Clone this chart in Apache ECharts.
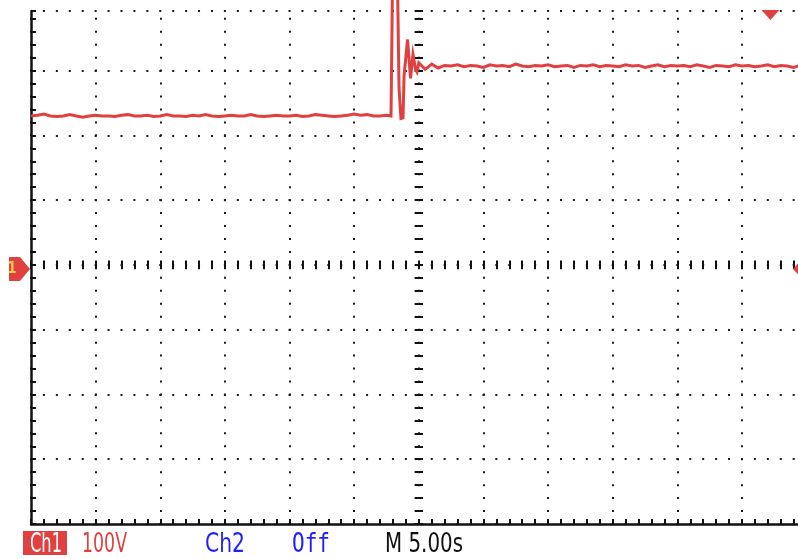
<!DOCTYPE html>
<html><head><meta charset="utf-8">
<script src="https://cdn.jsdelivr.net/npm/echarts@6/dist/echarts.min.js"></script>
<style>html,body{margin:0;padding:0;background:#fff;}#c{width:798px;height:559px;}</style>
</head><body><div id="c"></div>
<script>
// ---- data (seconds, volts) ----
const sampleStep = 0.5;
const baselineStart = 0;
const baseline = [
  230, 231, 233, 230, 229, 230, 232, 230, 228, 230, 231, 230, 230, 229, 231, 232, 230, 230, 231, 229,
  230, 232, 230, 230, 229, 231, 230, 232, 230, 229, 230, 231, 230, 230, 232, 230, 229, 230, 231, 230,
  230, 231, 229, 230, 232, 231, 230, 229, 230, 231, 233, 231, 232, 230, 230, 231
];
const spikeT = [27.85, 27.97, 28.35, 28.47, 28.62, 28.78, 28.86, 29.01, 29.13, 29.24, 29.36, 29.48, 29.55, 29.67, 29.75, 29.86];
const spikeV = [230, 440, 440, 274, 226, 227, 292, 295, 348, 345, 288, 291, 325, 323, 302, 298];
const settledStart = 30;
const settled = [
  312, 302, 310, 304, 308, 307, 309, 306, 308, 307, 305, 309, 307, 308, 306, 310, 307, 306, 308, 307,
  309, 306, 307, 308, 305, 308, 307, 309, 306, 308, 307, 306, 309, 307, 308, 305, 307, 309, 306, 308,
  307, 308, 306, 309, 307, 305, 308, 307, 306, 309, 307, 308, 306, 307, 309, 306, 308, 307, 305, 308, 307
];
const triggerTime = 57.2;
const statusTexts = ['Ch1', '100V', 'Ch2', 'Off', 'M 5.00s'];

// ---- layout ----
const GRID = {left: 31, top: 11, width: 775.6, height: 513};
const tMin = 0, tMax = 60, tMinor = 1, tMajor = 5;
const vMin = -400, vMax = 392, vMinor = 20, vMajor = 100;
const pxPerT = GRID.width / (tMax - tMin);
const pxPerV = GRID.height / (vMax - vMin);
const minorX = tMinor * pxPerT;
const minorY = vMinor * pxPerV;
const ink = '#111';
const dotInk = '#1c1c1c';
const red = '#e0403f';
const blue = '#1f1fff';

const data = [];
baseline.forEach((v, i) => data.push([baselineStart + i * sampleStep, v]));
spikeT.forEach((t, i) => data.push([t, spikeV[i]]));
settled.forEach((v, i) => data.push([settledStart + i * sampleStep, v]));

const y0 = GRID.top + (vMax - 0) * pxPerV;
const x0 = GRID.left + (30 - tMin) * pxPerT;
const firstMinorOffset = (vMax - Math.floor(vMax / vMinor) * vMinor) * pxPerV;
const vDashOffset = ((minorY - (firstMinorOffset - 1)) % minorY + minorY) % minorY;

const hidden = {show: false};
const baseX = {type: 'value', min: tMin, max: tMax, axisLabel: hidden, splitLine: hidden, axisPointer: hidden};
const baseY = {type: 'value', min: vMin, max: vMax, axisLabel: hidden, splitLine: hidden, axisPointer: hidden};

const option = {
  animation: false,
  backgroundColor: '#fff',
  grid: Object.assign({containLabel: false, outerBoundsMode: 'none'}, GRID),
  xAxis: [
    Object.assign({}, baseX, {position: 'bottom', interval: tMinor,
      axisLine: {show: true, onZero: false, lineStyle: {color: ink, width: 2.5}},
      axisTick: {show: true, inside: true, length: 5, lineStyle: {color: ink, width: 2}}}),
    Object.assign({}, baseX, {position: 'top', interval: tMajor,
      axisLine: {show: false, onZero: false}, axisTick: hidden,
      splitLine: {show: true, lineStyle: {color: dotInk, width: 2, type: [2, minorY - 2], dashOffset: vDashOffset}}}),
    Object.assign({}, baseX, {position: 'top', interval: tMinor, offset: -(y0 - 4.3 - GRID.top),
      axisLine: {show: false, onZero: false},
      axisTick: {show: true, inside: true, length: 8.6, lineStyle: {color: ink, width: 2}}})
  ],
  yAxis: [
    Object.assign({}, baseY, {position: 'left', interval: vMinor,
      axisLine: {show: true, onZero: false, lineStyle: {color: ink, width: 2.5}},
      axisTick: {show: true, inside: true, length: 5, lineStyle: {color: ink, width: 2}}}),
    Object.assign({}, baseY, {position: 'right', interval: vMajor,
      axisLine: {show: false, onZero: false}, axisTick: hidden,
      splitLine: {show: true, lineStyle: {color: dotInk, width: 2, type: [2, minorX - 2], dashOffset: 1}}}),
    Object.assign({}, baseY, {position: 'left', interval: vMinor, offset: -(x0 - 4.2 - GRID.left),
      axisLine: {show: false, onZero: false},
      axisTick: {show: true, inside: true, length: 8.4, lineStyle: {color: ink, width: 2}}})
  ],
  series: [{
    type: 'line', xAxisIndex: 0, yAxisIndex: 0, data: data, showSymbol: false, symbol: 'none',
    clip: false, silent: true, z: 5,
    lineStyle: {color: red, width: 3, join: 'miter'}
  }]
};

const chart = echarts.init(document.getElementById('c'), null, {renderer: 'canvas'});
chart.setOption(option);

const zy = chart.convertToPixel({yAxisIndex: 0}, 0);
const tx = chart.convertToPixel({xAxisIndex: 0}, triggerTime);
const gl = GRID.left, gr = GRID.left + GRID.width, gt = GRID.top;

// status-line text: condensed to the widths of the scope's bitmap font
const fontProp = '26px "DejaVu Sans Condensed", "DejaVu Sans", sans-serif';
const fontMono = '26px "DejaVu Sans Mono", monospace';
const measure = document.createElement('canvas').getContext('2d');
const textY = 545.3;
// [x, target width, colour, align, font]
const statusLayout = [
  [46, 32, '#fff', 'center', fontProp],
  [82, 45, red, 'left', fontProp],
  [205, 40, blue, 'left', fontProp],
  [292, 38, blue, 'left', fontMono],
  [385, 78, '#111', 'left', fontProp]
];
const statusGraphics = statusTexts.map((txt, i) => {
  const [x, w, fill, align, f] = statusLayout[i];
  measure.font = f;
  const s = w / measure.measureText(txt).width;
  return {type: 'text', z: 11, x: x, y: textY, scaleX: s, scaleY: 1,
    style: {x: 0, y: 0, text: txt, fill: fill, font: f, align: align, verticalAlign: 'middle'}};
});

chart.setOption({
  graphic: [
    {type: 'polygon', z: 10, shape: {points: [[gl - 22, zy - 8], [gl - 11, zy - 8], [gl - 1, zy + 4], [gl - 11, zy + 16], [gl - 22, zy + 16]]}, style: {fill: red}},
    {type: 'text', z: 11, style: {x: gl - 19, y: zy + 4.5, text: '1', fill: '#f3c94a', font: 'bold 15px "DejaVu Sans Condensed", sans-serif', align: 'center', verticalAlign: 'middle'}},
    {type: 'polygon', z: 10, shape: {points: [[gr - 13.5, zy + 4], [gr - 2.5, zy - 8], [gr + 14, zy - 8], [gr + 14, zy + 16], [gr - 2.5, zy + 16]]}, style: {fill: red}},
    {type: 'polygon', z: 10, shape: {points: [[tx - 9, gt - 1], [tx + 9, gt - 1], [tx, gt + 9]]}, style: {fill: red}},
    {type: 'rect', z: 10, shape: {x: 23, y: 531, width: 44, height: 24}, style: {fill: red}}
  ].concat(statusGraphics)
});
</script>
</body></html>
